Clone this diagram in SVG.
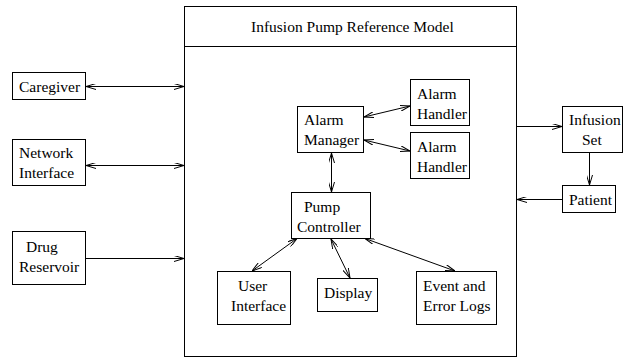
<svg xmlns="http://www.w3.org/2000/svg" width="625" height="358" viewBox="0 0 625 358">
<style>
  .box { fill: #fff; stroke: #000; stroke-width: 1; }
  .t { font-family: 'Liberation Serif', 'DejaVu Serif', 'Times New Roman', serif; font-size: 15.5px; fill: #000; }
  .c { fill: none; stroke: #000; stroke-width: 1; }
  .two { marker-start: url(#ah); marker-end: url(#ah); }
  .one { marker-end: url(#ah); }
</style>
<defs>
  <marker id="ah" viewBox="0 0 10 6" refX="10" refY="3" markerWidth="10" markerHeight="6" markerUnits="userSpaceOnUse" orient="auto-start-reverse">
    <path d="M0,0 L10,3 L0,6" fill="none" stroke="#000" stroke-width="1"/>
  </marker>
</defs>
<rect width="625" height="358" fill="#fff"/>

<g id="main">
  <rect class="box" x="184.5" y="6.5" width="332" height="350"/>
  <line class="c" x1="184.5" y1="46.5" x2="516.5" y2="46.5"/>
  <text class="t" font-family="Liberation Serif, serif" x="251" y="32">Infusion Pump Reference Model</text>
</g>

<g id="caregiver">
  <rect class="box" x="12.5" y="72.5" width="73" height="27"/>
  <text class="t" x="19" y="92">Caregiver</text>
</g>
<g id="network-interface">
  <rect class="box" x="12.5" y="139.5" width="73" height="46"/>
  <text class="t" x="19" y="158">Network</text>
  <text class="t" x="19" y="178">Interface</text>
</g>
<g id="drug-reservoir">
  <rect class="box" x="12.5" y="231.5" width="73" height="53"/>
  <text class="t" x="26" y="252">Drug</text>
  <text class="t" x="19" y="272">Reservoir</text>
</g>

<g id="alarm-manager">
  <rect class="box" x="297.5" y="106.5" width="66" height="46"/>
  <text class="t" x="304" y="125">Alarm</text>
  <text class="t" x="304" y="145">Manager</text>
</g>
<g id="alarm-handler-1">
  <rect class="box" x="410.5" y="79.5" width="59" height="46"/>
  <text class="t" x="417" y="99">Alarm</text>
  <text class="t" x="417" y="119">Handler</text>
</g>
<g id="alarm-handler-2">
  <rect class="box" x="410.5" y="132.5" width="59" height="46"/>
  <text class="t" x="417" y="152">Alarm</text>
  <text class="t" x="417" y="172">Handler</text>
</g>
<g id="pump-controller">
  <rect class="box" x="291.5" y="192.5" width="79" height="46"/>
  <text class="t" x="304" y="212">Pump</text>
  <text class="t" x="297" y="232">Controller</text>
</g>
<g id="user-interface">
  <rect class="box" x="217.5" y="271.5" width="73" height="53"/>
  <text class="t" x="238" y="291">User</text>
  <text class="t" x="231" y="311">Interface</text>
</g>
<g id="display">
  <rect class="box" x="317.5" y="278.5" width="60" height="33"/>
  <text class="t" x="324" y="298">Display</text>
</g>
<g id="event-error-logs">
  <rect class="box" x="416.5" y="271.5" width="80" height="53"/>
  <text class="t" x="423" y="291">Event and</text>
  <text class="t" x="423" y="311">Error Logs</text>
</g>
<g id="infusion-set">
  <rect class="box" x="562.5" y="106.5" width="60" height="46"/>
  <text class="t" x="569" y="125">Infusion</text>
  <text class="t" x="582" y="145">Set</text>
</g>
<g id="patient">
  <rect class="box" x="562.5" y="185.5" width="53" height="27"/>
  <text class="t" x="569" y="205">Patient</text>
</g>

<g id="connectors">
  <line class="c two" x1="86" y1="86.5" x2="184" y2="86.5"/>
  <line class="c two" x1="86" y1="165.5" x2="184" y2="165.5"/>
  <line class="c one" x1="86" y1="258.5" x2="184" y2="258.5"/>
  <line class="c two" x1="364" y1="117" x2="410" y2="106"/>
  <line class="c two" x1="364" y1="140" x2="410" y2="151"/>
  <line class="c two" x1="331.5" y1="153" x2="331.5" y2="192"/>
  <line class="c two" x1="297" y1="238.5" x2="252" y2="271"/>
  <line class="c two" x1="331" y1="239" x2="350" y2="278"/>
  <line class="c two" x1="365" y1="238.5" x2="455" y2="271"/>
  <line class="c one" x1="517" y1="126.5" x2="562" y2="126.5"/>
  <line class="c one" x1="589.5" y1="153" x2="589.5" y2="185"/>
  <line class="c one" x1="562" y1="199.5" x2="517" y2="199.5"/>
</g>
</svg>
